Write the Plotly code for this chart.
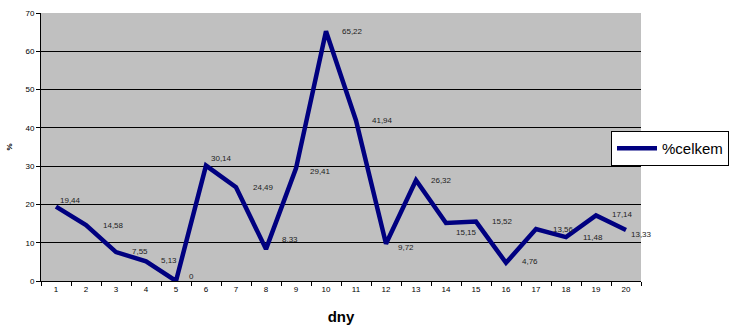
import plotly.graph_objects as go

# Days and share of total (%)
days = [str(d) for d in range(1, 21)]
celkem = [19.44, 14.58, 7.55, 5.13, 0, 30.14, 24.49, 8.33, 29.41, 65.22,
          41.94, 9.72, 26.32, 15.15, 15.52, 4.76, 13.56, 11.48, 17.14, 13.33]
y_ticks = [0, 10, 20, 30, 40, 50, 60, 70]

# Label offsets (px) relative to each point: right shift, downward shift
lab_dx = [14, 27, 24, 23, 15, 15, 27, 24, 24, 26, 26, 20, 25, 20, 26, 24, 27, 27, 26, 15]
lab_dy = [-6, 0, -1, -1, -5, -7, 0, -10, 3, 0, 0, 4, 0, 9, 0, -1, 0, 0, -1, 5]

FONT = "Arial, Liberation Sans, sans-serif"

fig = go.Figure()
fig.add_trace(go.Scatter(
    x=days, y=celkem, mode="lines", name="%celkem",
    line=dict(color="#000080", width=4.5),
))

# value labels, positioned by category index on the category axis
for i, (v, dx, dy) in enumerate(zip(celkem, lab_dx, lab_dy)):
    txt = ("%g" % v).replace(".", ",")
    fig.add_annotation(
        x=i, y=v, text=txt, showarrow=False,
        xanchor="center", yanchor="middle",
        xshift=dx, yshift=-dy,
        font=dict(family=FONT, size=8, color="#222222"),
    )

fig.update_layout(
    width=743, height=329,
    margin=dict(l=41, r=102, t=13, b=48),
    paper_bgcolor="white",
    plot_bgcolor="#C0C0C0",
    font=dict(family=FONT, size=8, color="black"),
    showlegend=True,
    legend=dict(
        x=0.95, y=0.56, xanchor="left", yanchor="top",
        bgcolor="white", bordercolor="black", borderwidth=1,
        font=dict(family=FONT, size=15, color="black"),
        itemwidth=40,
    ),
    xaxis=dict(
        type="category", tickson="boundaries",
        categoryorder="array", categoryarray=days,
        range=[-0.5, len(days) - 0.5],
        ticks="outside", ticklen=4, tickcolor="black",
        showline=True, linecolor="black", linewidth=1,
        showgrid=False, automargin=False,
        tickfont=dict(size=8),
        title=dict(text="<b>dny</b>", font=dict(size=15), standoff=18),
    ),
    yaxis=dict(
        range=[0, 70], tickvals=y_ticks,
        ticks="outside", ticklen=4, tickcolor="black",
        showline=True, linecolor="black", linewidth=1,
        showgrid=True, gridcolor="black", gridwidth=1,
        zeroline=False, automargin=False,
        tickfont=dict(size=8),
        title=dict(text="<b>%</b>", font=dict(size=8), standoff=11),
    ),
)

fig.write_html("out.html")
